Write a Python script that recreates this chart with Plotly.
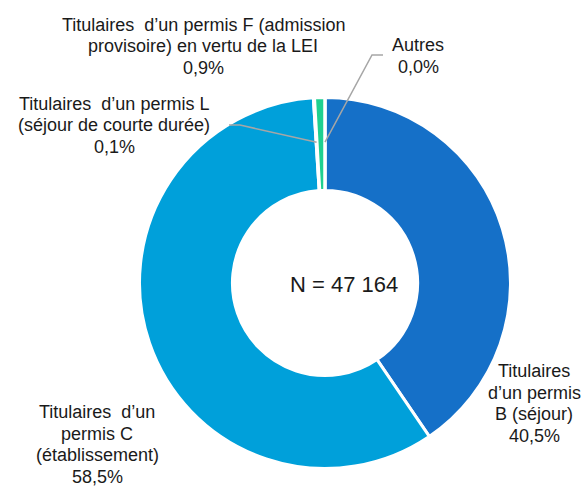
import math
import plotly.graph_objects as go

# ---- data ----
categories = [
    "Titulaires d'un permis B (séjour)",
    "Titulaires d'un permis C (établissement)",
    "Titulaires d'un permis L (séjour de courte durée)",
    "Titulaires d'un permis F (admission provisoire) en vertu de la LEI",
    "Autres",
]
values = [40.5, 58.5, 0.1, 0.9, 0.0]
value_labels = ["40,5%", "58,5%", "0,1%", "0,9%", "0,0%"]
total_n = "N = 47 164"

label_lines = [
    ["Titulaires", "d\u2019un permis", "B (séjour)"],
    ["Titulaires  d\u2019un", "permis C", "(établissement)"],
    ["Titulaires  d\u2019un permis L", "(séjour de courte durée)"],
    ["Titulaires  d\u2019un permis F (admission", "provisoire) en vertu de la LEI"],
    ["Autres"],
]
colors = ["#1570C8", "#00A0DA", "#00A0DA", "#1FD090", "#A6A6A6"]

# ---- layout constants (pixels) ----
W, H = 582, 486
CX, CY = 325, 283
R = 185.5
HOLE = 0.499
FONT = "Liberation Sans, Arial, sans-serif"
FS = 18
LS = 21.5

def px(x):
    return x / W

def py(y):
    return 1 - y / H

fig = go.Figure()
fig.add_trace(go.Pie(
    labels=categories,
    values=values,
    sort=False,
    direction="clockwise",
    rotation=0,
    hole=HOLE,
    marker=dict(colors=colors, line=dict(color="white", width=3)),
    textinfo="none",
    showlegend=False,
    domain=dict(x=[px(CX - R), px(CX + R)], y=[py(CY + R), py(CY - R)]),
))

annotations = []

def add_label(lines, cx, y0):
    for i, t in enumerate(lines):
        annotations.append(dict(
            text=t, x=px(cx), y=py(y0 + i * LS), xref="paper", yref="paper",
            xanchor="center", yanchor="middle", showarrow=False,
            font=dict(family=FONT, size=FS, color="#1a1a1a"),
        ))

# label placement: (center x, first line y)
positions = [(534, 371), (97, 412), (114, 104), (203, 25), (418, 45)]
for k in range(len(categories)):
    cx, y0 = positions[k]
    add_label(label_lines[k] + [value_labels[k]], cx, y0)

annotations.append(dict(
    text=total_n, x=px(344), y=py(284), xref="paper", yref="paper",
    xanchor="center", yanchor="middle", showarrow=False,
    font=dict(family=FONT, size=22, color="#1a1a1a"),
))

# leader lines from slice midpoints (computed from values)
tot = sum(values)
cum = []
acc = 0
for v in values:
    cum.append((acc + v / 2) / tot)
    acc += v
ring_r = 0.766 * 184

def anchor(k):
    th = 2 * math.pi * cum[k]
    return CX + ring_r * math.sin(th), CY - ring_r * math.cos(th)

shapes = []
leaders = {2: [(240, 125), (229, 125)], 4: [(372, 55), (383, 55)]}
for k, pts in leaders.items():
    ax, ay = anchor(k)
    path = f"M {px(ax)},{py(ay)}" + "".join(f" L {px(x)},{py(y)}" for x, y in pts)
    shapes.append(dict(type="path", path=path, xref="paper", yref="paper",
                       line=dict(color="#A6A6A6", width=1.5)))

fig.update_layout(
    width=W, height=H,
    margin=dict(l=0, r=0, t=0, b=0),
    paper_bgcolor="white", plot_bgcolor="white",
    annotations=annotations, shapes=shapes,
)

fig.write_html(
    "out.html",
    config={"displayModeBar": False},
    post_script="document.body.style.margin='0px';document.body.style.overflow='hidden';",
)
